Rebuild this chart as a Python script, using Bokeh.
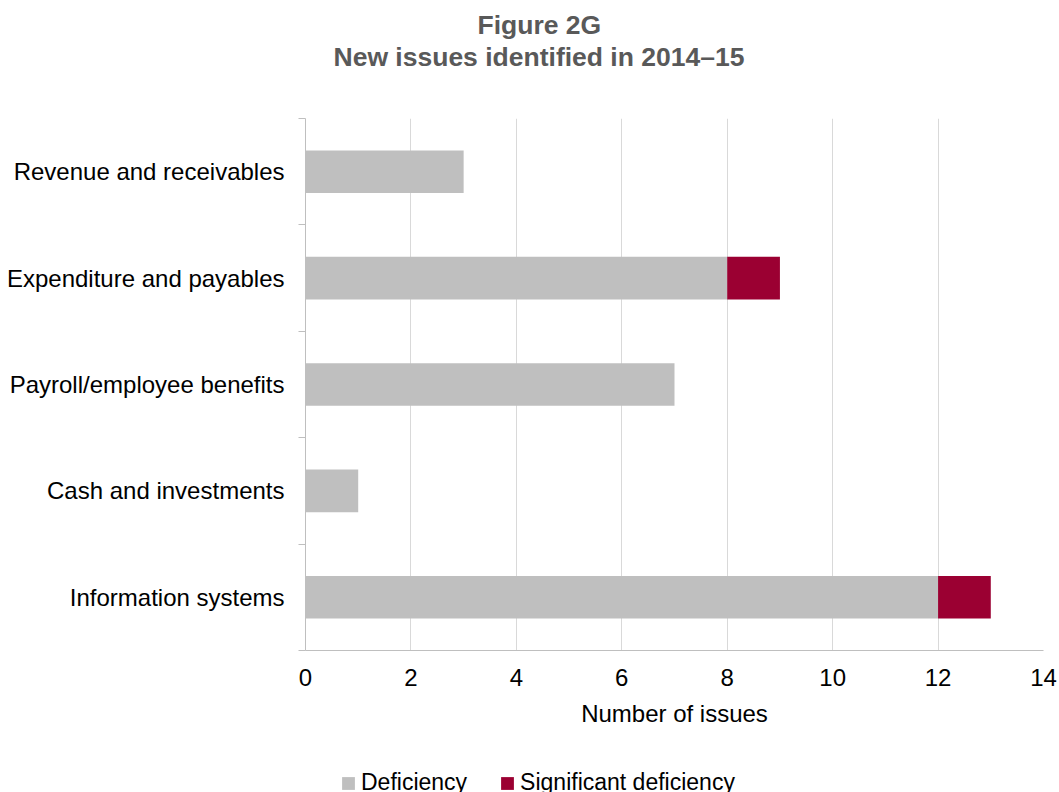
from bokeh.plotting import figure
from bokeh.layouts import column
from bokeh.models import Range1d, FixedTicker, Title, Legend, LegendItem, ColumnDataSource
from bokeh.embed import file_html
from bokeh.resources import INLINE

categories = ["Revenue and receivables", "Expenditure and payables",
              "Payroll/employee benefits", "Cash and investments", "Information systems"]
deficiency = [3, 8, 7, 1, 12]
significant = [0, 1, 0, 0, 1]
series_names = ["Deficiency", "Significant deficiency"]
series_colors = ["#BFBFBF", "#9B0032"]
x_ticks = [0, 2, 4, 6, 8, 10, 12, 14]

FONT = "Liberation Sans"
n = len(categories)
ypos = [n - i - 0.5 for i in range(n)]

src = ColumnDataSource(dict(y=ypos, cat=categories, deficiency=deficiency, significant=significant))

p = figure(width=1059, height=760, x_range=Range1d(0, 14), y_range=Range1d(0, n),
           output_backend="svg", toolbar_location=None, title=None,
           min_border_left=305, min_border_right=16, min_border_top=118, min_border_bottom=110)
p.outline_line_color = None

renderers = p.hbar_stack(["deficiency", "significant"], y="y", height=0.4, source=src,
                         color=series_colors, line_color=None)

# titles (stacked outward from the frame: spacer, line 2, line 1)
spacer = Title(text=" ", text_font_size="1px", standoff=44)
t2 = Title(text="New issues identified in 2014\u201315", align="left", offset=28,
           text_font=FONT, text_font_size="26.5px", text_font_style="bold",
           text_color="#595959", standoff=0)
t1 = Title(text="Figure 2G", align="left", offset=172,
           text_font=FONT, text_font_size="26.5px", text_font_style="bold",
           text_color="#595959", standoff=0)
p.add_layout(spacer, "above")
p.add_layout(t2, "above")
p.add_layout(t1, "above")

# x axis
xa = p.xaxis[0]
xa.ticker = FixedTicker(ticks=x_ticks)
xa.axis_line_color = "#BFBFBF"
xa.major_tick_line_color = None
xa.minor_tick_line_color = None
xa.major_tick_out = 0
xa.major_tick_in = 0
xa.major_label_standoff = 18
xa.major_label_text_font = FONT
xa.major_label_text_font_size = "24px"
xa.major_label_text_color = "#000000"
xa.axis_label = "Number of issues"
xa.axis_label_text_font = FONT
xa.axis_label_text_font_size = "24px"
xa.axis_label_text_font_style = "normal"
xa.axis_label_text_color = "#000000"
xa.axis_label_standoff = 11

# y axis
ya = p.yaxis[0]
ya.ticker = FixedTicker(ticks=ypos, minor_ticks=list(range(n + 1)))
ya.major_label_overrides = {y: c for y, c in zip(ypos, categories)}
ya.axis_line_color = "#BFBFBF"
ya.major_tick_line_color = None
ya.major_tick_out = 0
ya.major_tick_in = 0
ya.minor_tick_line_color = "#BFBFBF"
ya.minor_tick_out = 7
ya.minor_tick_in = 0
ya.major_label_standoff = 14
ya.major_label_text_font = FONT
ya.major_label_text_font_size = "24px"
ya.major_label_text_color = "#000000"

p.ygrid.grid_line_color = None
p.xgrid.ticker = FixedTicker(ticks=x_ticks)
p.xgrid.grid_line_color = "#D9D9D9"
p.xgrid.grid_line_width = 1

# legend strip below the chart (its frame is aligned with the chart frame by the column)
lg = figure(width=1059, height=32, x_range=Range1d(0, 14), y_range=Range1d(100, 101),
            output_backend="svg", toolbar_location=None, title=None,
            x_axis_location=None, y_axis_location=None,
            min_border_left=0, min_border_right=0, min_border_top=0, min_border_bottom=0)
lg.outline_line_color = None
lg.grid.visible = False
proxies = lg.hbar_stack(["deficiency", "significant"], y="y", height=0.4, source=src,
                        color=series_colors, line_color=None, visible=False)
legend = Legend(items=[LegendItem(label=series_names[i], renderers=[proxies[i]]) for i in range(2)],
                orientation="horizontal", location=(35, -4),
                glyph_width=16, glyph_height=16, label_standoff=5, spacing=32,
                label_text_font=FONT, label_text_font_size="23px", label_text_color="#000000",
                padding=0, margin=0, border_line_color=None, background_fill_alpha=0,
                inactive_fill_alpha=0)
lg.add_layout(legend, "center")

layout = column(p, lg, spacing=0)
open("out.html", "w").write(file_html(layout, INLINE))
